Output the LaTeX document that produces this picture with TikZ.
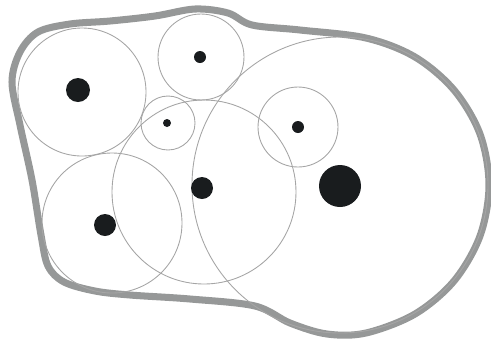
\documentclass[tikz,border=0pt]{standalone}
\usepackage{tikz}
\definecolor{hullgray}{RGB}{150,152,152}
\definecolor{ringgray}{RGB}{165,165,165}
\definecolor{dotblack}{RGB}{25,28,30}
\tikzset{
  hull/.style={draw=hullgray, line width=4pt, line join=round},
  ring/.style={draw=ringgray, line width=0.5pt},
  hole/.style={fill=dotblack},
}

\begin{document}
\begin{tikzpicture}[x=0.02cm, y=-0.02cm]
    \useasboundingbox (0,0) rectangle (491,343);
    % outer boundary
    \draw[hull] plot[smooth cycle, tension=0.55] coordinates {
      (12,82) (20,52) (38,32) (70,24) (110,21) (155,16) (195,9) (228,13)
      (252,25) (300,30) (366,38) (415,57) (454,90) (480,134) (489,185)
      (480,236) (454,281) (415,314) (366,333) (327,334) (290,323) (255,306)
      (190,299) (130,295) (95,291) (64,282) (48,266) (41,235) (32,180) (20,125)};
    % sensor positions
    \coordinate (cA) at (82,92);
    \coordinate (cB) at (201,57);
    \coordinate (cC) at (168,123);
    \coordinate (cD) at (298,127);
    \coordinate (cE) at (112,223);
    \coordinate (cF) at (204,192);
    \coordinate (cG) at (340,185);
    % coverage rings
    \draw[ring] (cA) circle[radius=64];
    \draw[ring] (cB) circle[radius=43];
    \draw[ring] (cC) circle[radius=27];
    \draw[ring] (cD) circle[radius=40];
    \draw[ring] (cE) circle[radius=70];
    \draw[ring] (cF) circle[radius=92];
    \draw[ring] (cG) circle[radius=148];
    % sensors
    \fill[hole] (78,90) circle[radius=12];
    \fill[hole] (200,57) circle[radius=6];
    \fill[hole] (167,123) circle[radius=4];
    \fill[hole] (298,127) circle[radius=6];
    \fill[hole] (105,225) circle[radius=11];
    \fill[hole] (202,188) circle[radius=11];
    \fill[hole] (340,186) circle[radius=21];
\end{tikzpicture}
\end{document}
